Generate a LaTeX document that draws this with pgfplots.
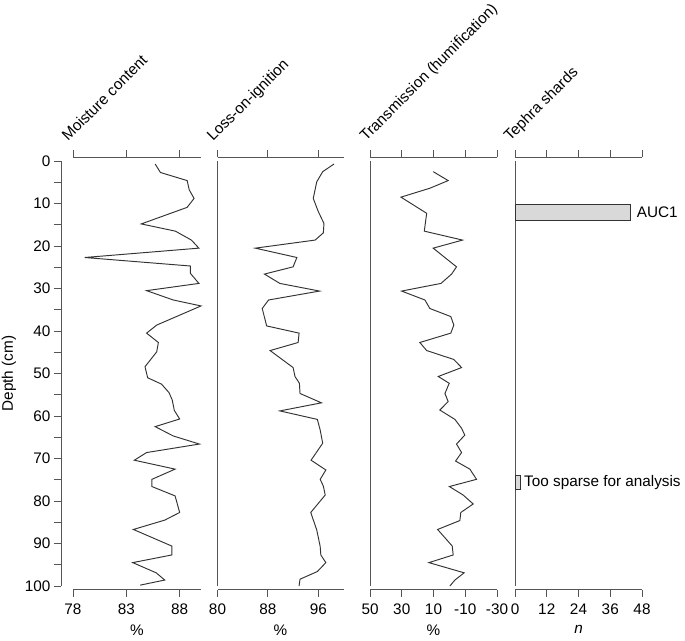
\documentclass[border=0pt]{standalone}
\usepackage{pgfplots}
\pgfplotsset{compat=1.18}
\usepackage{fontspec}
\setmainfont{Liberation Sans}

\definecolor{ink}{HTML}{333333}
\definecolor{axgray}{HTML}{555555}
\definecolor{barfill}{HTML}{D9D9D9}

\newcommand{\chartfont}{\fontsize{15.3}{18}\selectfont}

\pgfplotsset{
  panel/.style={
    scale only axis,
    height=432.6pt,
    ymin=-0.9, ymax=100.9, y dir=reverse,
    anchor=center,
    separate axis lines,
    axis line style={axgray, line width=0.9pt},
    y axis line style={draw=none},
    ytick=\empty,
    tick align=outside,
    major tick length=7pt,
    tick style={axgray, line width=0.9pt},
    xtick pos=both,
    ticklabel style={font=\chartfont},
    xticklabel style={yshift=-3pt},
    /pgf/number format/assume math mode=true,
    label style={font=\chartfont},
    xlabel style={yshift=-4pt},
    clip=false,
  },
  curve/.style={ink, line width=0.95pt, mark=none},
}

\begin{document}
\begin{tikzpicture}
\useasboundingbox (0,0) rectangle (685pt,-640pt);

% depth axis
\begin{axis}[
  scale only axis, width=10pt, height=425pt,
  at={(66pt,-373.5pt)}, anchor=center,
  xmin=0, xmax=1, ymin=0, ymax=100, y dir=reverse,
  hide x axis, axis y line*=left,
  axis line style={-, axgray, line width=0.9pt},
  tick align=outside, major tick length=7pt, minor tick length=7pt,
  tick style={axgray, line width=0.9pt},
  ytick={0,10,...,100}, minor ytick={5,15,...,95},
  ticklabel style={font=\chartfont},
  /pgf/number format/assume math mode=true,
  ylabel={Depth (cm)},
  label style={font=\chartfont},
  ylabel style={yshift=2pt},
]
\addplot[draw=none] coordinates {(0,0) (0,100)};
\end{axis}

% moisture content
\begin{axis}[panel, width=128pt, at={(137pt,-373.5pt)},
  xmin=78, xmax=90, xtick={78,83,88}, xlabel={\%}]
\addplot[curve] coordinates {
(85.7,0.7) (86.2,2.7) (88.7,4.6) (88.9,6.8) (89.35,8.8) (88.7,10.9)
(84.4,14.8) (87.6,16.5) (89.1,18.6) (89.8,20.5) (79.1,22.7) (89.0,24.7)
(89.0,26.4) (89.8,28.8) (84.9,30.5) (87.4,32.7) (90.0,34.1) (85.85,38.6)
(84.9,40.5) (86.0,42.7) (85.85,44.9) (84.75,48.4) (85.0,51.0) (86.3,52.5)
(87.0,54.5) (87.3,56.2) (87.5,58.7) (88.0,60.7) (85.7,62.5) (87.4,64.7)
(89.85,66.6) (84.9,68.6) (83.75,70.4) (87.57,72.5) (85.4,74.9) (85.4,76.6)
(87.57,78.8) (88.0,82.7) (86.6,84.5) (83.66,86.7) (87.26,90.6) (87.26,92.7)
(83.6,94.5) (85.8,96.9) (86.6,98.6) (84.3,99.8)
};
\end{axis}

% loss-on-ignition
\begin{axis}[panel, width=126pt, at={(280.5pt,-373.5pt)},
  xmin=80, xmax=100, xtick={80,88,96}, xlabel={\%}]
\draw[axgray, line width=0.9pt] (axis cs:80,0) -- (axis cs:80,100);
\addplot[curve] coordinates {
(98.5,0.7) (96.7,2.5) (95.75,4.9) (95.2,8.8) (96.0,11.9) (96.9,14.7)
(96.8,16.9) (95.5,18.6) (86.0,20.5) (92.6,22.7) (92.0,24.9) (87.45,26.6)
(89.9,28.8) (96.2,30.6) (88.1,32.7) (87.1,34.7) (87.8,38.8) (92.95,40.5)
(92.8,42.7) (88.35,44.6) (92.0,48.6) (92.3,50.7) (93.0,52.3) (93.1,54.7)
(96.5,56.9) (89.9,58.8) (95.85,60.8) (96.3,63.3) (96.7,66.4) (94.85,70.4)
(97.2,72.7) (96.3,74.9) (96.8,76.5) (97.1,78.6) (94.8,82.7) (95.75,86.8)
(96.3,90.7) (96.4,92.7) (97.2,94.5) (95.85,96.6) (93.1,98.4) (92.95,100)
};
\end{axis}

% transmission
\begin{axis}[panel, width=127pt, at={(433.5pt,-373.5pt)},
  xmin=-30, xmax=50, x dir=reverse, xtick={-30,-10,10,30,50}, xlabel={\%}]
\draw[axgray, line width=0.9pt] (axis cs:50,0) -- (axis cs:50,100);
\addplot[curve] coordinates {
(10.2,2.5) (0.75,4.6) (12.3,6.4) (30.5,8.5) (14.3,12.3) (15.8,16.5)
(-8.3,18.6) (10.2,20.5) (-4.5,24.9) (-1.4,26.6) (5.3,28.8) (30.1,30.6)
(15.4,32.7) (12.3,34.7) (-0.9,36.6) (-2.8,38.6) (-0.9,40.5) (18.6,42.7)
(14.3,44.6) (-2.8,46.7) (-7.7,48.6) (7.0,50.7) (0.1,52.3) (2.8,54.7)
(0.75,56.6) (6.0,58.6) (-3.5,60.8) (-7.7,62.9) (-9.7,64.5) (-4.5,66.6)
(-7.7,68.6) (-3.9,70.6) (-12.9,72.5) (-17.1,74.9) (0.0,76.6) (-8.7,78.6)
(-15.0,80.7) (-7.2,82.7) (-6.6,84.6) (7.4,86.7) (-1.8,90.6) (-2.4,92.7)
(12.9,94.5) (-9.3,96.9) (-3.5,98.6) (-0.3,100)
};
\end{axis}

% tephra shards
\begin{axis}[panel, width=127pt, at={(578.5pt,-373.5pt)},
  xmin=0, xmax=48, xtick={0,12,...,48}, xlabel={\textit{n}}]
\draw[axgray, line width=0.9pt] (axis cs:0,0) -- (axis cs:0,100);
\addplot[fill=barfill, draw=ink, line width=0.8pt] coordinates {
(0,10.2) (43.7,10.2) (43.7,13.9) (0,13.9)} -- cycle;
\addplot[fill=barfill, draw=ink, line width=0.8pt] coordinates {
(0,73.9) (2.1,73.9) (2.1,77.3) (0,77.3)} -- cycle;
\node[anchor=west, font=\chartfont, inner sep=0pt] at (axis cs:46,12) {AUC1};
\node[anchor=west, font=\chartfont, inner sep=0pt] at (axis cs:3.4,75.6) {Too sparse for analysis};
\end{axis}

\begin{scope}[every node/.style={rotate=45, anchor=base west, inner sep=0pt, font=\chartfont}]
\node at (68pt,-142pt) {Moisture content};
\node at (213pt,-142pt) {Loss-on-ignition};
\node at (366pt,-142pt) {Transmission (humification)};
\node at (510pt,-142pt) {Tephra shards};
\end{scope}
\end{tikzpicture}
\end{document}
